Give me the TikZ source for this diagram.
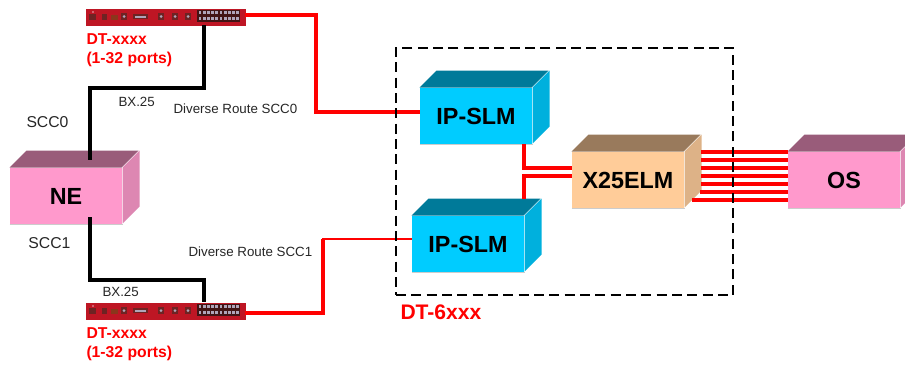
\documentclass[tikz,border=0pt]{standalone}
\usepackage{fontspec}
\setmainfont{Liberation Sans}
\usepackage{tikz}
\tikzset{every picture/.style={line width=0.75pt}}
\definecolor{pinkfront}{RGB}{255,153,204}
\definecolor{pinktop}{RGB}{153,92,122}
\definecolor{pinkside}{RGB}{221,135,178}
\definecolor{bluefront}{RGB}{0,204,255}
\definecolor{bluetop}{RGB}{0,122,153}
\definecolor{blueside}{RGB}{0,176,221}
\definecolor{tanfront}{RGB}{255,204,153}
\definecolor{tantop}{RGB}{153,122,92}
\definecolor{tanside}{RGB}{221,178,135}
\definecolor{rackred}{RGB}{190,22,36}
\definecolor{rackdark}{RGB}{110,35,35}
\definecolor{portlight}{RGB}{175,165,185}
\definecolor{linered}{RGB}{255,0,0}
\tikzset{
	redline/.style={draw=linered,line width=3pt,line join=miter},
	thinred/.style={draw=linered,line width=2pt},
	blackline/.style={draw=black,line width=2.4pt},
	dashbox/.style={draw=black,line width=1.8pt,dash pattern=on 7.5pt off 4pt},
	cubefront/.style={inner sep=0,minimum width=84pt,minimum height=42pt,font=\fontsize{17.5}{20}\bfseries},
	smalltext/.style={inner sep=0,anchor=west,text=black!85,font=\fontsize{10}{12}\selectfont},
	scctext/.style={inner sep=0,anchor=west,text=black!85,font=\fontsize{11.8}{14}\selectfont},
	dttext/.style={inner sep=0,anchor=north west,align=left,text=linered,font=\fontsize{11.8}{14.2}\bfseries},
	racknode/.style={inner sep=0,anchor=north west,fill=rackred,minimum width=120pt,minimum height=13pt}
}
% #1 name, #2 centre, #3 text, #4 colour prefix
\newcommand{\cubebox}[4]{
	\node [cubefront,fill=#4front] (#1) at #2 {#3};
	\fill [#4top] (#1.north west) -- ++(17,-17) -- ++(112,0) -- ++(-17,17) -- cycle ;
	\fill [#4side] (#1.north east) -- ++(17,-17) -- ++(0,56) -- ++(-17,17) -- cycle ;
	\draw [black!20,line width=0.6pt] (#1.south west) -- (#1.south east) ;
}
% #1 name, #2 top left corner
\newcommand{\rackunit}[2]{
	\node [racknode] (#1) at #2 {};
	\begin{scope}[shift={#2}]
		\fill [rackdark] (4,6) rectangle (11,12) ;
		\fill [portlight!60!red] (7,3) rectangle (8.5,5) ;
		\fill [rackdark] (17,6) rectangle (22,12) ;
		\fill [rackdark!80!orange] (26,7) rectangle (33,12) ;
		\fill [rackdark] (48,6) rectangle (63,11) ;
		\fill [portlight] (50,8) rectangle (61,9.5) ;
		\foreach \portx in {39,76,90,103} {
			\fill [rackdark] (\portx-3,5) rectangle (\portx+3,12) ;
			\fill [portlight] (\portx,8.5) circle (1.5) ;
		}
		\fill [rackdark!60!black] (112,2) rectangle (155,14) ;
		\foreach \portx in {0,...,9} {
			\fill [portlight] (113.5+4.2*\portx,3) rectangle ++(2.8,3.4) ;
			\fill [portlight] (113.5+4.2*\portx,9) rectangle ++(2.8,3.4) ;
		}
	\end{scope}
}

\begin{document}
\begin{tikzpicture}[x=0.75pt,y=0.75pt,yscale=-1,xscale=1]
		\useasboundingbox (0,0) rectangle (905,364);
		\clip (0,0) rectangle (905,364);
		
		%Shape: Cubes
		\cubebox{ne}{(66,196)}{NE}{pink}
		\cubebox{slmA}{(476,116)}{IP-SLM}{blue}
		\cubebox{slmB}{(468,244)}{IP-SLM}{blue}
		\cubebox{elm}{(628,180)}{X25ELM}{tan}
		\cubebox{os}{(844,180)}{OS}{pink}
		
		%Shape: Racks
		\rackunit{rackA}{(85,8)}
		\rackunit{rackB}{(85,302)}
		
		\coordinate (neA) at (90,160);
		\coordinate (neB) at (90,217);
		\coordinate (portA) at (204,25);
		\coordinate (portB) at (204,302);
		\coordinate (bendA) at (90,88);
		\coordinate (bendB) at (90,280);
		\coordinate (outA) at (245,15);
		\coordinate (outB) at (245,313);
		\coordinate (inA) at (420,112);
		\coordinate (inB) at (412,239);
		\coordinate (downA) at (524,144);
		\coordinate (upB) at (524,199);
		\coordinate (elmA) at (572,168);
		\coordinate (elmB) at (572,176);
		
		%Straight Lines
		\draw [blackline] (portA) -- (portA |- bendA) -- (bendA) -- (neA) ;
		\draw [blackline] (neB) -- (bendB) -- (portB |- bendB) -- (portB) ;
		
		%Straight Lines
		\draw [redline] (outA) -| (316,112) -- (inA) ;
		\draw [redline] (outB) -| (323,239) ;
		\draw [thinred] (322,239) -- (inB) ;
		\draw [redline] (downA) |- (elmA) ;
		\draw [redline] (upB) |- (elmB) ;
		
		%Straight Lines
		\foreach \wirey/\wirex in {152/701,160/701,168/701,176/701,184/701,192/700,200/692} {
			\coordinate (wireA) at (\wirex,\wirey);
			\coordinate (wireB) at (788,\wirey);
			\draw [redline] (wireA) -- (wireB) ;
		}
		
		%Shape: Rectangle
		\node [dashbox,inner sep=0,minimum width=252.75pt,minimum height=185.25pt] (dtbox) at (564.5,171.5) {};
		
		%Labels
		\node [dttext] (dtA) at (86,33) {DT-xxxx\\(1-32 ports)};
		\node [dttext] (dtB) at (86,327) {DT-xxxx\\(1-32 ports)};
		\node [inner sep=0,anchor=west,text=linered,font=\fontsize{15.8}{18}\bfseries] (dtbig) at (400,312) {DT-6xxx};
		\node [scctext] (sccA) at (26,122) {SCC0};
		\node [scctext] (sccB) at (28,243) {SCC1};
		\node [smalltext] (bxA) at (118,102) {BX.25};
		\node [smalltext] (bxB) at (102,292) {BX.25};
		\node [smalltext] (routeA) at (173,109) {Diverse Route SCC0};
		\node [smalltext] (routeB) at (188,252) {Diverse Route SCC1};
\end{tikzpicture}
\end{document}
